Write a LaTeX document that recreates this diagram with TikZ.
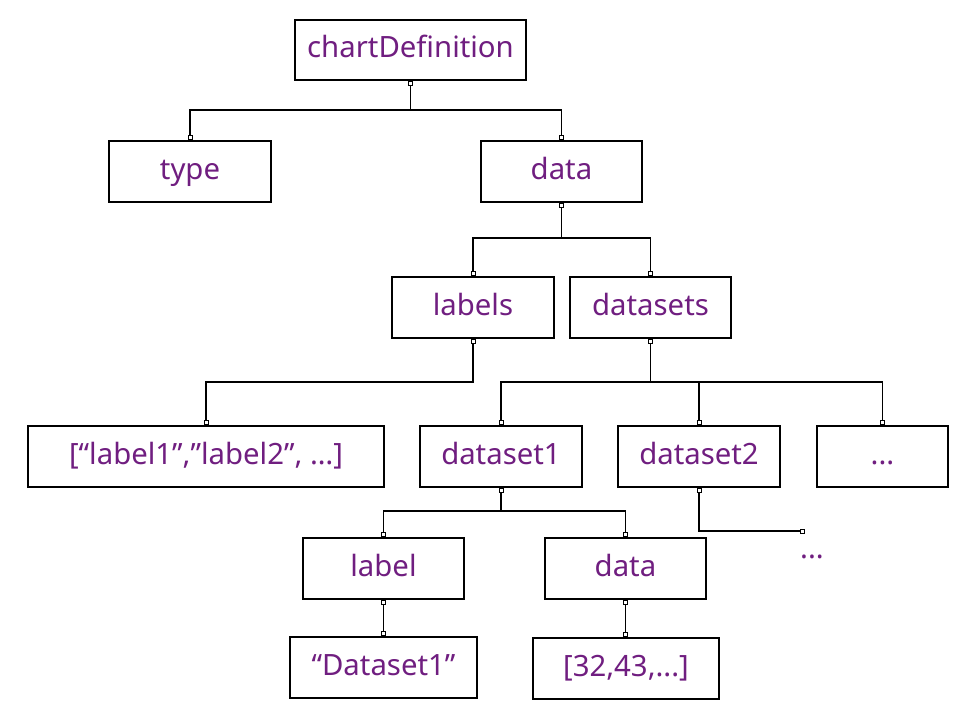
\documentclass[tikz,border=0pt]{standalone}
\usepackage{fontspec}
\setmainfont{Noto Sans}
\definecolor{txt}{RGB}{112,30,128}
\tikzset{
  box/.style={draw, line width=1pt, inner sep=0pt, minimum height=45.75pt, text=txt,
    font=\fontsize{22}{26}\selectfont, text height=1.16em, text depth=0.02em},
  conn/.style={line width=1pt},
  mk/.style={draw, fill=white, line width=0.7pt, minimum width=3pt, minimum height=3pt, inner sep=0pt},
}
\begin{document}
\begin{tikzpicture}[x=0.75pt,y=-0.75pt]
\useasboundingbox[fill=white] (0,0) rectangle (960,720);
\node[box, minimum width=173.25pt, minimum height=45pt] (cd) at (410.5,50) {chartDefinition};
\node[box, minimum width=121.5pt] (type) at (190,171.5) {type};
\node[box, minimum width=120.75pt] (data) at (561.5,171.5) {data};
\node[box, minimum width=121.5pt] (labels) at (473,307.5) {labels};
\node[box, minimum width=120.75pt] (datasets) at (650.5,307.5) {datasets};
\node[box, minimum width=267pt] (lablist) at (206,456.5) {[“label1”,”label2”, …]};
\node[box, minimum width=121.5pt] (ds1) at (501,456.5) {dataset1};
\node[box, minimum width=121.5pt] (ds2) at (699,456.5) {dataset2};
\node[box, minimum width=98.25pt] (more) at (882.5,456.5) {...};
\node[box, minimum width=120.75pt] (label) at (383.5,568.5) {label};
\node[box, minimum width=120.75pt] (data2) at (625.5,568.5) {data};
\node[box, minimum width=140.25pt] (dsval) at (383.5,667.5) {“Dataset1”};
\node[box, minimum width=139.5pt] (arr) at (626,668.5) {[32,43,...]};
\node[text=txt, font=\fontsize{22}{26}\selectfont, inner sep=0pt] (free) at (812,557) {...};
\coordinate (end) at (800,531);

\draw[conn] (cd.south) -- (cd.south |- 0,110) -| (type.north);
\draw[conn] (cd.south |- 0,110) -| (data.north);
\draw[conn] (data.south) -- (data.south |- 0,238) -| (labels.north);
\draw[conn] (data.south |- 0,238) -| (datasets.north);
\draw[conn] (labels.south) -- (labels.south |- 0,382) -| (lablist.north);
\draw[conn] (datasets.south) -- (datasets.south |- 0,382) -| (ds1.north);
\draw[conn] (datasets.south |- 0,382) -| (more.north);
\draw[conn] (ds2.north) -- (ds2.north |- 0,382);
\draw[conn] (ds1.south) -- (ds1.south |- 0,511) -| (label.north);
\draw[conn] (ds1.south |- 0,511) -| (data2.north);
\draw[conn] (label.south) -- (dsval.north);
\draw[conn] (data2.south) -- (data2.south |- arr.north);
\draw[conn] (ds2.south) |- (end);

\foreach \n in {cd,data,labels,datasets,ds1,ds2,label,data2}
  \node[mk, anchor=north] at (\n.south) {};
\foreach \n in {type,data,labels,datasets,lablist,ds1,ds2,more,label,data2,dsval}
  \node[mk, anchor=south] at (\n.north) {};
\node[mk, anchor=south] at (data2.south |- arr.north) {};
\node[mk, anchor=west] at (end) {};
\end{tikzpicture}
\end{document}
